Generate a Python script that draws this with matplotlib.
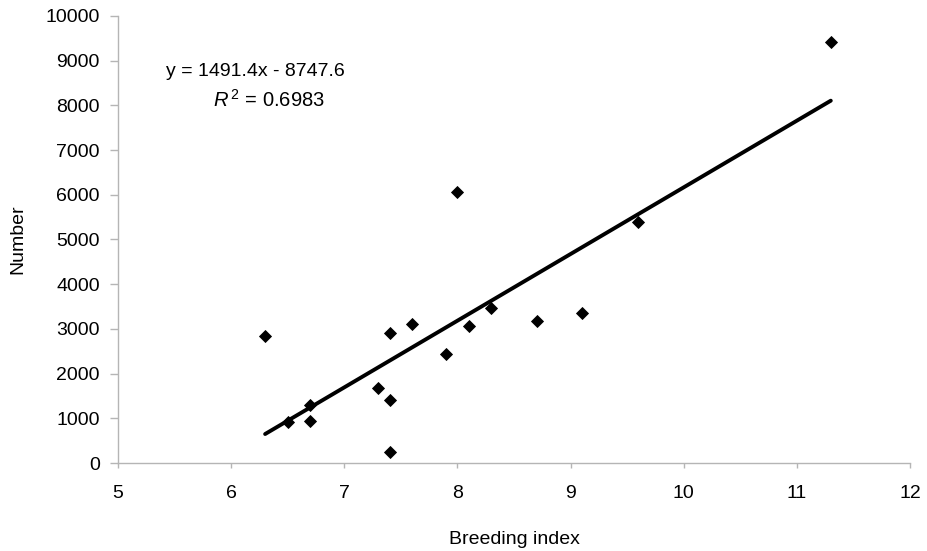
import numpy as np
import matplotlib
matplotlib.use("Agg")
import matplotlib.pyplot as plt

# ----------------------------
# Data
# ----------------------------
breeding_index = [6.3, 6.5, 6.7, 6.7, 7.3, 7.4, 7.4, 7.4, 7.6,
                  7.9, 8.0, 8.1, 8.3, 8.7, 9.1, 9.6, 11.3]
number = [2840, 920, 1300, 940, 1680, 2900, 1410, 250, 3110,
          2440, 6060, 3070, 3460, 3180, 3360, 5400, 9410]

# trendline as printed on the chart
slope = 1491.4
intercept = -8747.6
r_squared = 0.6983

x_ticks = [5, 6, 7, 8, 9, 10, 11, 12]
y_ticks = [0, 1000, 2000, 3000, 4000, 5000, 6000, 7000, 8000, 9000, 10000]


def main():
    plt.rcParams["font.family"] = ["Liberation Sans", "DejaVu Sans"]
    plt.rcParams["mathtext.fontset"] = "custom"
    plt.rcParams["mathtext.rm"] = "Liberation Sans"
    plt.rcParams["mathtext.it"] = "Liberation Sans:italic"

    fig = plt.figure(figsize=(9.28, 5.51), dpi=100)
    ax = fig.add_axes([0.1272, 0.1597, 0.8534, 0.8113])

    # --- scatter points ---
    ax.plot(breeding_index, number, linestyle="none", marker="D",
            markersize=6.2, color="black", markeredgewidth=0.6)

    # --- linear trendline over the data range ---
    x_fit = np.array([min(breeding_index), max(breeding_index)])
    ax.plot(x_fit, slope * x_fit + intercept, color="black", linewidth=2.8,
            solid_capstyle="round")

    # --- equation box ---
    ax.text(6.21, 8747, f"y = {slope}x - {abs(intercept)}", fontsize=14,
            ha="center", va="center")
    ax.text(6.33, 8120, r"$\mathit{R}^{\,2}$" + f" = {r_squared}", fontsize=14.5,
            ha="center", va="center")

    # --- axes styling ---
    ax.set_xlim(5, 12)
    ax.set_ylim(0, 10000)
    ax.set_xticks(x_ticks)
    ax.set_yticks(y_ticks)
    ax.tick_params(axis="both", labelsize=14, color="#b5b5b5")
    ax.tick_params(axis="y", length=6, width=1, pad=7)
    ax.tick_params(axis="x", length=3.5, width=1, pad=12)
    for side in ["top", "right"]:
        ax.spines[side].set_visible(False)
    for side in ["left", "bottom"]:
        ax.spines[side].set_color("#b5b5b5")
        ax.spines[side].set_linewidth(1)

    ax.set_xlabel("Breeding index", fontsize=14, labelpad=21)
    ax.set_ylabel("Number", fontsize=14, labelpad=14)

    fig.savefig("out.png", dpi=100)


if __name__ == "__main__":
    main()
